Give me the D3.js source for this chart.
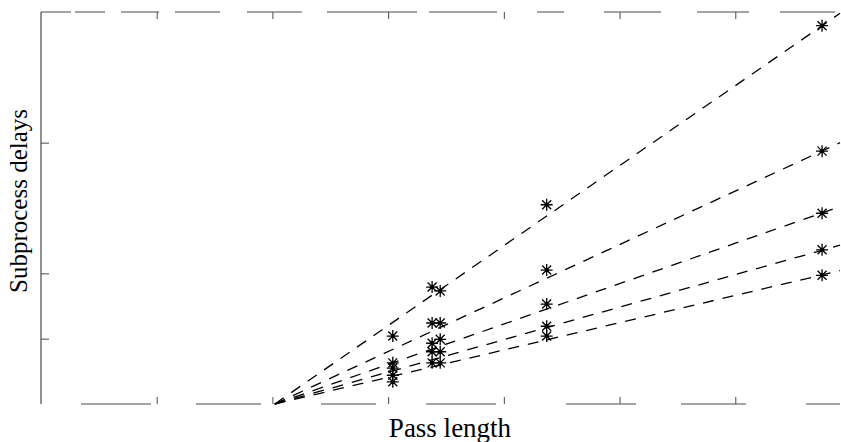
<!DOCTYPE html>
<html>
<head>
<meta charset="utf-8">
<script src="https://cdn.jsdelivr.net/npm/d3@7"></script>
<style>
  body { margin: 0; background: #fff; }
  svg { display: block; }
</style>
</head>
<body>
<div id="chart"></div>
<script>
var width = 841, height = 442;

// measured points: pass length (x) against subprocess delay (y)
var passLength = [3.04, 3.38, 3.45, 4.37, 6.75];
var delaySeries = [
    [1.04, 1.79, 1.73, 3.05, 5.79],
    [0.63, 1.24, 1.24, 2.05, 3.87],
    [0.55, 0.93, 0.99, 1.53, 2.92],
    [0.44, 0.80, 0.80, 1.19, 2.36],
    [0.34, 0.63, 0.63, 1.04, 1.97]
];
// fitted lines, all starting from the same origin
var fitStart = [2.02, 0];
var fitEndX = 6.905;
var fitEndY = [5.98, 4.0, 3.02, 2.43, 2.04];

var xTicks = [1, 2, 3, 4, 5, 6];
var yTicks = [1, 2, 4];

var x = d3.scaleLinear().domain([0, 7]).range([41, 851]);
var y = d3.scaleLinear().domain([0, 6]).range([404, 12]);

var svg = d3.select("#chart").append("svg")
    .attr("width", width)
    .attr("height", height);

var frameColor = "#4a4a4a";

// left axis
svg.append("g")
    .attr("transform", "translate(" + x(0) + ",0)")
    .call(d3.axisLeft(y).tickValues(yTicks).tickSize(-8).tickFormat(""))
    .call(function (g) {
        g.select(".domain").remove();
        g.selectAll("line").attr("stroke", frameColor);
    });
svg.append("line")
    .attr("x1", x(0)).attr("x2", x(0))
    .attr("y1", y(6)).attr("y2", y(0))
    .attr("stroke", frameColor).attr("stroke-width", 1.2);

// bottom axis (broken line, like the scan)
svg.append("g")
    .attr("transform", "translate(0," + y(0) + ")")
    .call(d3.axisBottom(x).tickValues(xTicks).tickSize(-7).tickFormat(""))
    .call(function (g) {
        g.select(".domain").remove();
        g.selectAll("line").attr("stroke", frameColor);
    });
svg.append("line")
    .attr("x1", x(0)).attr("x2", 840)
    .attr("y1", y(0)).attr("y2", y(0))
    .attr("stroke", frameColor).attr("stroke-width", 1.2)
    .attr("stroke-dasharray", "0,40,70,45,65,60,55,50,70,30");

// top axis
svg.append("g")
    .attr("transform", "translate(0," + y(6) + ")")
    .call(d3.axisTop(x).tickValues(xTicks).tickSize(-7).tickFormat(""))
    .call(function (g) {
        g.select(".domain").remove();
        g.selectAll("line").attr("stroke", frameColor);
    });
svg.append("line")
    .attr("x1", x(0)).attr("x2", 840)
    .attr("y1", y(6)).attr("y2", y(6))
    .attr("stroke", frameColor).attr("stroke-width", 1.2)
    .attr("stroke-dasharray", "30,4,30,16,38,16,45,27,55,25,90,12,68,40,27,40,57,36,52,31,55");

// fitted dashed lines
svg.append("g")
    .selectAll("line")
    .data(fitEndY)
    .enter().append("line")
    .attr("x1", x(fitStart[0]))
    .attr("y1", y(fitStart[1]))
    .attr("x2", x(fitEndX))
    .attr("y2", function (d) { return y(d); })
    .attr("stroke", "#000")
    .attr("stroke-width", 1.3)
    .attr("stroke-dasharray", "11,9");

// asterisk markers
var r = 6;
var star = "M" + (-r) + ",0L" + r + ",0M0," + (-r) + "L0," + r
    + "M" + (-r * 0.75) + "," + (-r * 0.75) + "L" + (r * 0.75) + "," + (r * 0.75)
    + "M" + (-r * 0.75) + "," + (r * 0.75) + "L" + (r * 0.75) + "," + (-r * 0.75);

var points = [];
delaySeries.forEach(function (s) {
    s.forEach(function (v, i) {
        points.push({ x: passLength[i], y: v });
    });
});

var marks = svg.append("g")
    .selectAll("g")
    .data(points)
    .enter().append("g")
    .attr("transform", function (d) {
        return "translate(" + x(d.x) + "," + y(d.y) + ")";
    });
marks.append("path")
    .attr("d", star)
    .attr("stroke", "#000")
    .attr("stroke-width", 1.3)
    .attr("fill", "none");
marks.append("circle")
    .attr("r", 2)
    .attr("fill", "#000");

// axis labels
svg.append("text")
    .attr("x", 450)
    .attr("y", 437)
    .attr("text-anchor", "middle")
    .style("font-family", "'Liberation Serif', 'DejaVu Serif', serif")
    .style("font-size", "27px")
    .text("Pass length");

svg.append("text")
    .attr("transform", "translate(27,201) rotate(-90)")
    .attr("text-anchor", "middle")
    .style("font-family", "'Liberation Serif', 'DejaVu Serif', serif")
    .style("font-size", "25px")
    .text("Subprocess delays");
</script>
</body>
</html>
